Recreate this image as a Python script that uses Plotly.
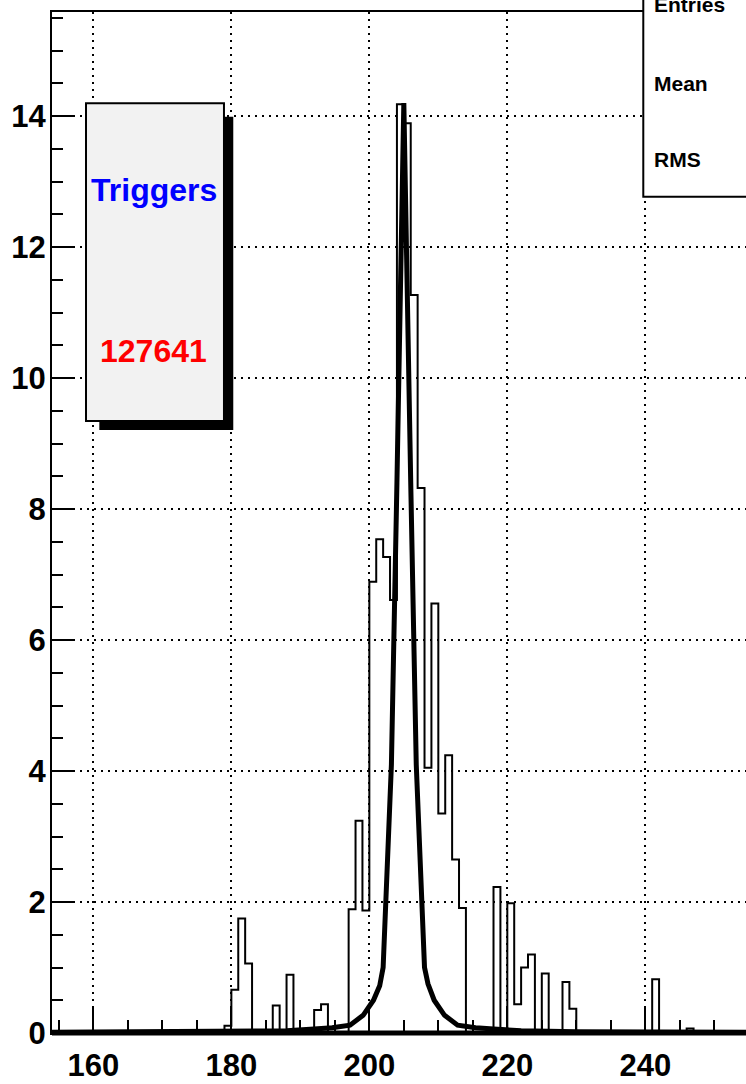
import plotly.graph_objects as go

# histogram: non-empty bins (lower edge) and contents, bin width 1
bin_low = [179, 180, 181, 182, 186, 188, 192, 193, 197, 198, 199, 200, 201, 202,
           203, 204, 205, 206, 207, 208, 209, 210, 211, 212, 213, 218, 220, 221,
           222, 223, 225, 228, 229, 241, 246]
bin_content = [0.11, 0.66, 1.75, 1.06, 0.42, 0.89, 0.35, 0.44, 1.89, 3.24, 1.87, 6.89,
               7.54, 7.27, 6.61, 14.18, 13.89, 11.27, 8.32, 4.05, 6.56, 3.35, 4.24,
               2.65, 1.91, 2.23, 1.98, 0.44, 1.00, 1.20, 0.91, 0.78, 0.37, 0.82, 0.07]
hist_min, hist_max = 154, 255

# fitted curve
fit_x = [154, 170, 180, 188, 192, 194.6, 197.2, 199.1, 200.6, 201.5, 202.0, 203.2,
         204.0, 205.0, 206.0, 206.8, 208.0, 208.5, 209.4, 210.9, 212.8, 215.4, 218,
         222, 230, 240, 254.6]
fit_y = [0.01, 0.015, 0.02, 0.035, 0.06, 0.08, 0.12, 0.27, 0.5, 0.72, 1.0, 4.1,
         8.4, 14.2, 8.4, 4.1, 1.0, 0.75, 0.5, 0.27, 0.12, 0.08, 0.06,
         0.035, 0.02, 0.015, 0.01]

stat_labels = ["Entries", "Mean", "RMS"]
pave_title = "Triggers"
pave_value = "127641"

# build the full step outline
filled = dict(zip(bin_low, bin_content))
edges = list(range(hist_min, hist_max + 1))
step_y = [filled.get(e, 0.0) for e in edges[:-1]]
step_y.append(step_y[-1])

fig = go.Figure()
fig.add_trace(go.Scatter(x=edges, y=step_y, mode="lines", line_shape="hv",
                         line=dict(color="black", width=2), hoverinfo="skip"))
fig.add_trace(go.Scatter(x=fit_x, y=fit_y, mode="lines",
                         line=dict(color="black", width=5)))

font_b = dict(family="Liberation Sans", color="black", weight="bold")

fig.update_xaxes(range=[154, 254.6], tick0=160, dtick=20, ticks="inside",
                 ticklen=27, tickwidth=2, tickcolor="black", automargin=False,
                 showline=True, linecolor="black", linewidth=2, mirror=True,
                 showgrid=True, gridcolor="black", gridwidth=2, griddash="2px,5px",
                 zeroline=False, tickfont=dict(size=31, **font_b),
                 ticklabelstandoff=4,
                 minor=dict(dtick=5, tick0=155, ticks="inside", ticklen=13,
                            tickwidth=2, tickcolor="black", showgrid=False))
fig.update_yaxes(range=[0, 15.59], tick0=0, dtick=2, ticks="inside",
                 ticklen=23, tickwidth=2, tickcolor="black", automargin=False,
                 showline=True, linecolor="black", linewidth=2,
                 showgrid=True, gridcolor="black", gridwidth=2, griddash="2px,5px",
                 zeroline=False, tickfont=dict(size=31, **font_b),
                 ticklabelstandoff=-2,
                 minor=dict(dtick=0.5, tick0=0, ticks="inside", ticklen=11,
                            tickwidth=2, tickcolor="black", showgrid=False))

shapes = [
    # thick bottom edge (fit line lying on zero)
    dict(type="line", xref="paper", yref="paper", x0=0, x1=1, y0=0, y1=0,
         line=dict(color="black", width=5), layer="above"),
    # shadow of the trigger pave
    dict(type="rect", xref="paper", yref="paper", x0=0.0682, x1=0.2612,
         y0=0.5906, y1=0.8975, fillcolor="black", line=dict(width=0), layer="above"),
    dict(type="rect", xref="paper", yref="paper", x0=0.049, x1=0.2478,
         y0=0.5994, y1=0.9106, fillcolor="#f2f2f2",
         line=dict(color="black", width=2), layer="above"),
    # stats box
    dict(type="rect", xref="paper", yref="paper", x0=0.852, x1=1.05,
         y0=0.8191, y1=1.05, fillcolor="white",
         line=dict(color="black", width=2), layer="above"),
]

annotations = [
    dict(text=pave_title, x=0.1463, y=0.826, xref="paper", yref="paper",
         xanchor="center", yanchor="middle", showarrow=False,
         font=dict(family="Liberation Sans", size=32, color="#0000ff", weight="bold")),
    dict(text=pave_value, x=0.1465, y=0.668, xref="paper", yref="paper",
         xanchor="center", yanchor="middle", showarrow=False,
         font=dict(family="Liberation Sans", size=32, color="#ff0000", weight="bold")),
]
for lab, yy in zip(stat_labels, [1.0069, 0.9302, 0.856]):
    annotations.append(dict(text=lab, x=0.8641, y=yy, xref="paper", yref="paper",
                            xanchor="left", yanchor="middle", showarrow=False,
                            font=dict(size=21, **font_b)))

fig.update_layout(width=746, height=1084, showlegend=False,
                  margin=dict(l=52, r=0, t=12, b=51),
                  paper_bgcolor="white", plot_bgcolor="white",
                  shapes=shapes, annotations=annotations)

# drop the default page margin so the figure sits at the window corner
fig.write_html("out.html", config={"displayModeBar": False},
               post_script="document.body.style.margin='0px';")
